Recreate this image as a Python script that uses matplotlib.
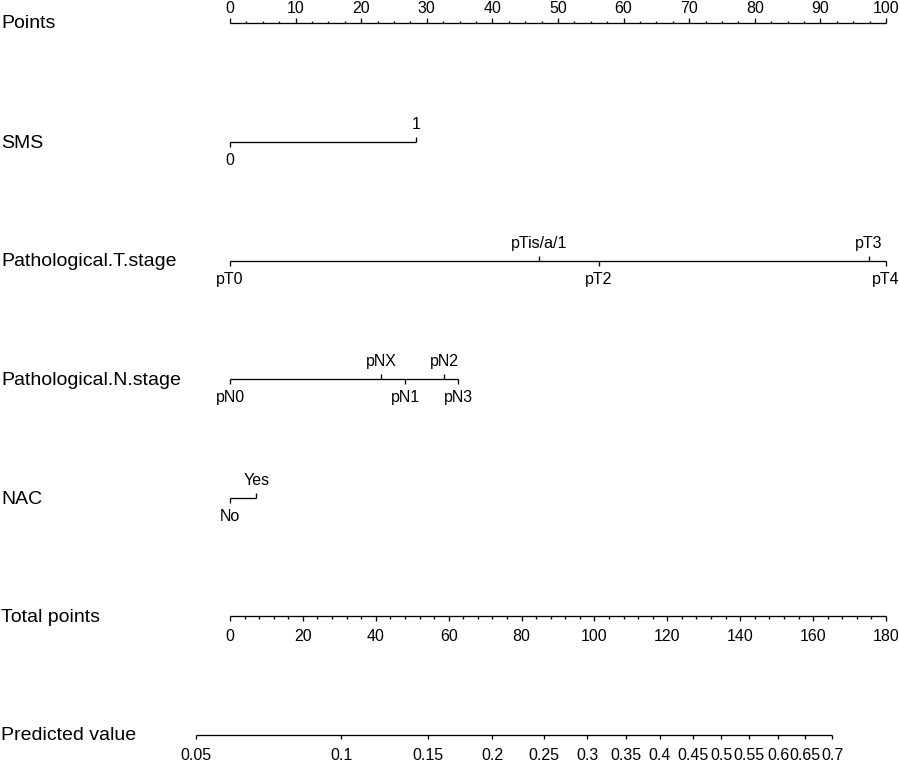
import numpy as np
import matplotlib.pyplot as plt

plt.rcParams['font.family'] = ['Liberation Sans', 'DejaVu Sans']

# row labels on the left
row_names = ["Points", "SMS", "Pathological.T.stage", "Pathological.N.stage",
             "NAC", "Total points", "Predicted value"]

# points given to each level (0-100 scale)
sms_levels = ["0", "1"]
sms_points = [0, 28.35]
t_levels = ["pT0", "pTis/a/1", "pT2", "pT3", "pT4"]
t_points = [0, 47.06, 56.25, 97.36, 100]
n_levels = ["pN0", "pNX", "pN1", "pN2", "pN3"]
n_points = [0, 23.07, 26.72, 32.62, 34.81]
nac_levels = ["No", "Yes"]
nac_points = [0, 4.02]

# total points scale
total_max = 180
total_major = list(range(0, 181, 20))

# predicted value ticks and where they sit on the total points scale
pred_labels = ["0.05", "0.1", "0.15", "0.2", "0.25", "0.3", "0.35", "0.4",
               "0.45", "0.5", "0.55", "0.6", "0.65", "0.7"]
pred_total = [-9.33, 30.47, 54.35, 71.9, 86.2, 98.0, 108.7, 118.0,
              127.1, 134.8, 142.5, 150.4, 157.8, 165.3]

# layout (pixel rows of each axis line)
row_y = [23, 142, 261, 379, 498, 616, 735]
W, H = 900, 762
x0, x1 = 230, 886
lw = 0.95
tick_fs = 11.5
name_fs = 14

fig = plt.figure(figsize=(9, 7.62), dpi=100)
ax = fig.add_axes([x0 / W, 0, (x1 - x0) / W, 1])
ax.set_xlim(0, 100)
ax.set_ylim(H, 0)
ax.axis("off")


def hline(a, b, y):
    ax.plot([a, b], [y, y], color="black", lw=lw, solid_capstyle="butt", clip_on=False)


def vtick(x, y, length):
    ax.plot([x, x], [y, y + length], color="black", lw=lw, solid_capstyle="butt", clip_on=False)


def draw_variable(y, pts, labels):
    hline(min(pts), max(pts), y)
    order = np.argsort(pts)
    for k, i in enumerate(order):
        if k % 2 == 0:
            vtick(pts[i], y, 5)
            ax.text(pts[i], y + 23, labels[i], ha="center", va="baseline",
                    fontsize=tick_fs, clip_on=False)
        else:
            vtick(pts[i], y, -5)
            ax.text(pts[i], y - 13, labels[i], ha="center", va="baseline",
                    fontsize=tick_fs, clip_on=False)


# Points axis
y = row_y[0]
hline(0, 100, y)
for v in np.arange(0, 100.01, 2.5):
    if v % 10 == 0:
        vtick(v, y, -5)
        ax.text(v, y - 10, f"{int(v)}", ha="center", va="baseline",
                fontsize=tick_fs, clip_on=False)
    else:
        vtick(v, y, -2.5)

draw_variable(row_y[1], sms_points, sms_levels)
draw_variable(row_y[2], t_points, t_levels)
draw_variable(row_y[3], n_points, n_levels)
draw_variable(row_y[4], nac_points, nac_levels)

# Total points axis
y = row_y[5]
to_pts = lambda t: np.asarray(t) * 100.0 / total_max
hline(0, to_pts(total_max), y)
for v in range(0, total_max + 1, 4):
    if v in total_major:
        vtick(to_pts(v), y, 5)
        ax.text(to_pts(v), y + 25, str(v), ha="center", va="baseline",
                fontsize=tick_fs, clip_on=False)
    else:
        vtick(to_pts(v), y, 3)

# Predicted value axis
y = row_y[6]
px = to_pts(pred_total)
hline(px[0], px[-1], y)
for p, lab in zip(px, pred_labels):
    vtick(p, y, 4)
    ax.text(p, y + 25, lab, ha="center", va="baseline",
            fontsize=tick_fs, clip_on=False)

# row names
for name, yy in zip(row_names, row_y):
    fig.text(0.001, 1 - (yy + 1) / H, name, ha="left", va="center", fontsize=name_fs)

fig.savefig("out.png", dpi=100, facecolor="white")
